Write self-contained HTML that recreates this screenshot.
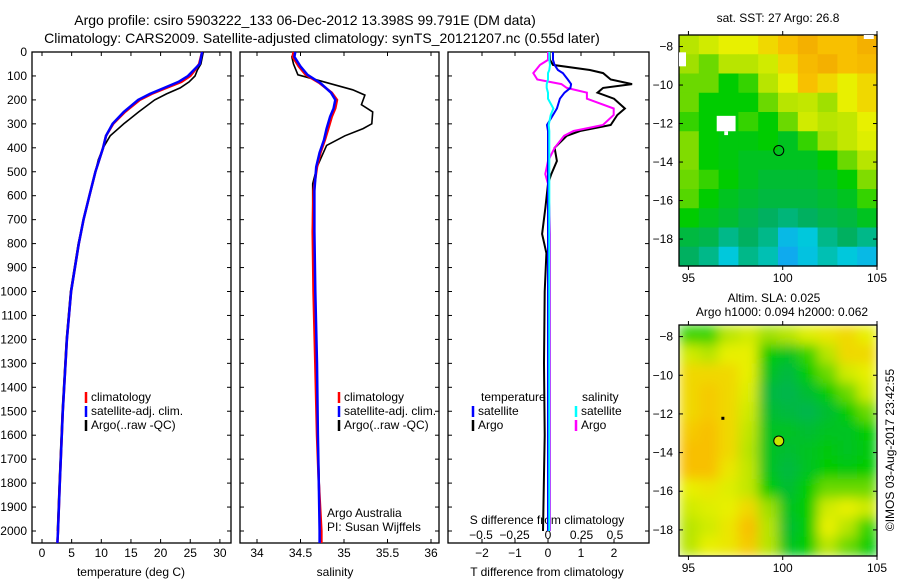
<!DOCTYPE html>
<html><head><meta charset="utf-8"><style>
body{margin:0;background:#fff}
svg{display:block;font-family:"Liberation Sans",sans-serif}
</style></head><body>
<svg id="fig" width="900" height="580" viewBox="0 0 900 580" xmlns="http://www.w3.org/2000/svg">
<defs>
<filter id="blur" x="-5%" y="-5%" width="110%" height="110%"><feGaussianBlur stdDeviation="6" edgeMode="duplicate"/></filter>
<clipPath id="slaClip"><rect x="679" y="325" width="198" height="231"/></clipPath>
</defs>
<g font-size="14" fill="#000" text-anchor="middle">
<text x="305" y="25">Argo profile: csiro 5903222_133 06-Dec-2012 13.398S 99.791E (DM data)</text>
<text x="322" y="43">Climatology: CARS2009. Satellite-adjusted climatology: synTS_20121207.nc (0.55d later)</text>
</g>
<g font-size="12" text-anchor="middle">
<text x="778" y="22">sat. SST: 27 Argo: 26.8</text>
<text x="774" y="302">Altim. SLA: 0.025</text>
<text x="782" y="316">Argo h1000: 0.094 h2000: 0.062</text>
<text x="131" y="576">temperature (deg C)</text>
<text x="335" y="576">salinity</text>
<text x="547" y="576">T difference from climatology</text>
<text x="547" y="524">S difference from climatology</text>
<text transform="translate(894,450) rotate(-90)">©IMOS 03-Aug-2017 23:42:55</text>
</g>
<g font-size="12">
<text x="327" y="517">Argo Australia</text>
<text x="327" y="531">PI: Susan Wijffels</text>
</g>
<g id="plots"></g>
</svg>
<script>
// ---- data ----
const tDepth = [0,50,75,100,125,150,175,200,250,300,350,400,500,600,700,800,1000,1200,1500,1800,2000,2050];
const tClim  = [27,26.5,25.8,25,23.5,21,18.5,16.5,14,12,10.8,10.3,9,8,7,6.2,4.9,4.2,3.5,3.0,2.7,2.6];
const tSat   = [27,26.6,25.6,24.6,23.0,20.6,18.2,16.2,13.8,11.9,10.8,10.3,9,8,7,6.2,4.9,4.2,3.5,3.0,2.7,2.6];
const tArgoDepth = [0,50,75,100,125,150,175,200,250,300,350,400,450,500,600,700,800,1000,1200,1500,1800,2000];
const tArgo  = [27.2,26.8,26.2,25.8,24.8,23.3,21,19,16.3,13.8,11.5,10.3,9.5,9,8,7,6.1,4.8,4.1,3.4,2.9,2.6];
const sDepth = [0,20,60,95,130,170,200,235,270,320,367,420,480,580,750,1000,1300,1600,1800,2000,2050];
const sClim  = [34.42,34.41,34.48,34.56,34.72,34.86,34.92,34.9,34.86,34.82,34.78,34.73,34.69,34.65,34.64,34.65,34.67,34.69,34.71,34.74,34.74];
const sSat   = [34.44,34.43,34.5,34.58,34.73,34.85,34.9,34.88,34.84,34.8,34.77,34.72,34.68,34.66,34.66,34.67,34.69,34.7,34.71,34.72,34.72];
const sArgoDepth = [0,20,50,95,120,158,180,220,250,300,320,350,390,480,550,700,1000,1300,1600,2000];
const sArgo  = [34.43,34.4,34.42,34.47,34.72,35.1,35.24,35.2,35.33,35.32,35.22,35.01,34.8,34.69,34.64,34.64,34.66,34.68,34.7,34.73];
const dDepth = [0,33,54,75,88,115,134,150,170,195,236,263,305,330,350,400,455,510,550,650,760,840,1000,1300,1600,2000];
const dTArgo = [0.05,0.06,0.15,1.27,1.67,1.9,2.55,1.67,1.5,2.0,2.33,2.1,1.9,0.97,0.57,0.2,0.27,0.1,0,-0.08,-0.18,-0.05,-0.1,-0.12,-0.1,-0.15];
const dTSat  = [0.15,0.15,0.2,0.3,0.45,0.6,0.7,0.68,0.5,0.36,0.27,0.15,-0.03,0,0,0,0,0,0,0,0,0,0,0,0,0];
const dSArgo = [0,0,-0.06,-0.09,-0.11,-0.08,0.1,0.14,0.29,0.29,0.49,0.49,0.41,0.19,0.12,0.05,0.0,-0.02,0,0.01,0.015,0.015,0.015,0.015,0.015,0.015];
const dSSat  = [0.01,0.01,0.015,0.01,0.0,0.0,-0.01,-0.01,0.0,0.0,0.04,0.02,0.005,0.01,0.01,0.01,0.01,0.01,0.01,0.01,0.01,0.01,0.01,0.01,0.01,0.01];
const depthTicks = [0,100,200,300,400,500,600,700,800,900,1000,1100,1200,1300,1400,1500,1600,1700,1800,1900,2000];
const tTicks = [0,5,10,15,20,25,30];
const sTicks = [34,34.5,35,35.5,36];
const sTickLabels = ["34","34.5","35","35.5","36"];
const dtTicks = [-2,-1,0,1,2];
const dsTicks = [-0.5,-0.25,0,0.25,0.5];
const dsTickLabels = ["\u22120.5","\u22120.25","0","0.25","0.5"];
const latTicks = [-8,-10,-12,-14,-16,-18];
const lonTicks = [95,100,105];
const sstGrid = [
[0.7,0.75,0.8,0.8,0.85,0.9,0.95,0.9,0.9,0.95],
[0.65,0.6,0.7,0.7,0.75,0.85,0.92,0.95,0.9,0.92],
[0.6,0.6,0.5,0.55,0.7,0.8,0.9,0.85,0.8,0.85],
[0.6,0.5,0.5,0.5,0.6,0.7,0.72,0.65,0.8,0.85],
[0.55,0.5,0.5,0.55,0.5,0.6,0.75,0.7,0.72,0.8],
[0.62,0.5,0.48,0.48,0.5,0.45,0.55,0.65,0.72,0.78],
[0.62,0.5,0.48,0.45,0.45,0.45,0.45,0.5,0.6,0.7],
[0.6,0.55,0.5,0.45,0.42,0.42,0.42,0.45,0.5,0.62],
[0.58,0.5,0.45,0.42,0.4,0.4,0.4,0.42,0.45,0.55],
[0.5,0.45,0.42,0.38,0.35,0.32,0.35,0.38,0.4,0.45],
[0.4,0.38,0.3,0.35,0.3,0.15,0.2,0.3,0.35,0.3],
[0.35,0.3,0.2,0.3,0.25,0.1,0.18,0.25,0.2,0.15]];
const slaGrid = [
[0.55,0.55,0.7,0.75,0.65,0.7,0.78,0.82,0.85,0.8],
[0.75,0.7,0.8,0.8,0.5,0.45,0.55,0.7,0.85,0.85],
[0.85,0.85,0.85,0.8,0.45,0.4,0.5,0.6,0.75,0.8],
[0.85,0.88,0.85,0.78,0.4,0.38,0.42,0.5,0.6,0.75],
[0.85,0.88,0.85,0.75,0.42,0.4,0.38,0.42,0.5,0.6],
[0.88,0.9,0.85,0.72,0.45,0.45,0.42,0.45,0.45,0.5],
[0.9,0.9,0.85,0.7,0.45,0.42,0.45,0.48,0.45,0.48],
[0.9,0.9,0.82,0.72,0.45,0.4,0.45,0.5,0.48,0.5],
[0.8,0.82,0.78,0.72,0.5,0.42,0.5,0.6,0.6,0.6],
[0.75,0.78,0.8,0.85,0.65,0.45,0.5,0.75,0.8,0.75],
[0.7,0.75,0.82,0.9,0.7,0.42,0.5,0.8,0.7,0.55],
[0.7,0.8,0.82,0.88,0.7,0.45,0.5,0.7,0.6,0.5]];
const floatLon = 99.791, floatLat = -13.398;

// ---- helpers ----
const NS="http://www.w3.org/2000/svg";
const root=document.getElementById('plots');
function el(tag,attrs,parent){const e=document.createElementNS(NS,tag);for(const k in attrs)e.setAttribute(k,attrs[k]);(parent||root).appendChild(e);return e;}
const TOP=52, DSCALE=0.2395, BOT=543;
const yD=d=>TOP+d*DSCALE;
const xT=t=>42+t*5.93;
const xS=s=>257+(s-34)*87;
const xDT=v=>548+v*33;
const xDS=v=>548+v*134;

function box(x0,x1,name){
  const r=el('rect',{x:x0,y:TOP,width:x1-x0,height:BOT-TOP,fill:'none',stroke:'#000','stroke-width':1.3});
  
  
  depthTicks.forEach(d=>{
    el('line',{x1:x0,x2:x0+4,y1:yD(d),y2:yD(d),stroke:'#000'});
    el('line',{x1:x1,x2:x1-4,y1:yD(d),y2:yD(d),stroke:'#000'});
  });
}
function xticks(vals,labels,fx,name,y){
  vals.forEach((v,i)=>{
    el('line',{x1:fx(v),x2:fx(v),y1:TOP,y2:TOP+4,stroke:'#000'});
    el('line',{x1:fx(v),x2:fx(v),y1:BOT,y2:BOT-4,stroke:'#000'});
    const t=el('text',{x:fx(v),y:y,'font-size':12,'text-anchor':'middle'});
    t.textContent=labels[i];
    
    
  });
}
function line(xs,ds,fx,color,w,name){
  const pts=xs.map((v,i)=>fx(v).toFixed(1)+','+yD(ds[i]).toFixed(1)).join(' ');
  const p=el('polyline',{points:pts,fill:'none',stroke:color,'stroke-width':w,'stroke-linejoin':'miter'});
  
  
}
function legend(x,y,color,label,name){
  el('line',{x1:x,x2:x,y1:y-9,y2:y+2,stroke:color,'stroke-width':2.5});
  const t=el('text',{x:x+5,y:y,'font-size':12});
  t.textContent=label;
  
  
}

// panel 1 temperature
box(32,231,'temperature-panel');
depthTicks.forEach(d=>{
  const t=el('text',{x:27,y:yD(d)+4,'font-size':12,'text-anchor':'end'});
  t.textContent=d;
  
  
});
xticks(tTicks,tTicks.map(String),xT,'temperature',557);
line(tArgo,tArgoDepth,xT,'#000',1.6,'temperature-argo-line');
line(tClim,tDepth,xT,'#f00',2.5,'temperature-climatology-line');
line(tSat,tDepth,xT,'#00f',2.5,'temperature-satellite-line');
legend(86,401,'#f00','climatology','legend-climatology-temp');
legend(86,415,'#00f','satellite-adj. clim.','legend-satellite-temp');
legend(86,429,'#000','Argo(..raw -QC)','legend-argo-temp');

// panel 2 salinity
box(240,439,'salinity-panel');
xticks(sTicks,sTickLabels,xS,'salinity',557);
line(sArgo,sArgoDepth,xS,'#000',1.6,'salinity-argo-line');
line(sClim,sDepth,xS,'#f00',2.5,'salinity-climatology-line');
line(sSat,sDepth,xS,'#00f',2.5,'salinity-satellite-line');
legend(339,401,'#f00','climatology','legend-climatology-sal');
legend(339,415,'#00f','satellite-adj. clim.','legend-satellite-sal');
legend(339,429,'#000','Argo(..raw -QC)','legend-argo-sal');

// panel 3 differences
box(448,649,'difference-panel');
xticks(dtTicks,dtTicks.map(v=>v<0?'\u2212'+(-v):String(v)),xDT,'t-diff',557);
dsTicks.forEach((v,i)=>{
  const t=el('text',{x:xDS(v),y:539,'font-size':12,'text-anchor':'middle'});
  t.textContent=dsTickLabels[i];
  
  
});
line(dTArgo,dDepth,xDT,'#000',2,'t-diff-argo-line');
line(dSArgo,dDepth,xDS,'#f0f',2,'s-diff-argo-line');
line(dTSat,dDepth,xDT,'#00f',2,'t-diff-satellite-line');
line(dSSat,dDepth,xDS,'#0ff',2,'s-diff-satellite-line');
(function(){const t=el('text',{x:481,y:401,'font-size':12});t.textContent='temperature';


const s=el('text',{x:582,y:401,'font-size':12});s.textContent='salinity';

})();
legend(473,415,'#00f','satellite','legend-t-satellite');
legend(473,429,'#000','Argo','legend-t-argo');
legend(576,415,'#0ff','satellite','legend-s-satellite');
legend(576,429,'#f0f','Argo','legend-s-argo');

// maps
const stops=[[0,[30,140,255]],[0.2,[0,200,220]],[0.35,[0,176,96]],[0.5,[0,204,0]],[0.65,[160,224,0]],[0.8,[232,240,0]],[0.9,[248,192,0]],[1,[240,160,0]]];
function cmap(v){for(let i=1;i<stops.length;i++){if(v<=stops[i][0]){const a=stops[i-1],b=stops[i],f=(v-a[0])/(b[0]-a[0]);return 'rgb('+a[1].map((c,k)=>Math.round(c+(b[1][k]-c)*f)).join(',')+')';}}return 'rgb(240,160,0)';}
function map(grid,top,bot,latTop,latBot,name,smooth){
  const L=679,R=877,lon0=94.5,lon1=105;
  const xL=lo=>L+(lo-lon0)/(lon1-lon0)*(R-L);
  const yL=la=>top+(latTop-la)/(latTop-latBot)*(bot-top);
  const rows=grid.length,cols=grid[0].length,cw=(R-L)/cols,ch=(bot-top)/rows;
  const outer=el('g',smooth?{'clip-path':'url(#slaClip)'}:{});
  const g=el('g',smooth?{filter:'url(#blur)'}:{},outer);
  
  
  grid.forEach((row,r)=>row.forEach((v,c)=>{
    const cell=el('rect',{x:L+c*cw,y:top+r*ch,width:cw+0.6,height:ch+0.6,fill:cmap(v)},g);
    
    
  }));
  el('rect',{x:L,y:top,width:R-L,height:bot-top,fill:'none',stroke:'#000','stroke-width':1.3});
  latTicks.forEach(la=>{
    el('line',{x1:L,x2:L+4,y1:yL(la),y2:yL(la),stroke:'#000'});
    el('line',{x1:R,x2:R-4,y1:yL(la),y2:yL(la),stroke:'#000'});
    const t=el('text',{x:673,y:yL(la)+4,'font-size':12,'text-anchor':'end'});
    t.textContent='\u2212'+(-la);
    
    
  });
  lonTicks.forEach(lo=>{
    el('line',{x1:xL(lo),x2:xL(lo),y1:top,y2:top-4,stroke:'#000'});
    el('line',{x1:xL(lo),x2:xL(lo),y1:bot,y2:bot+4,stroke:'#000'});
    const t=el('text',{x:xL(lo),y:bot+16,'font-size':12,'text-anchor':'middle'});
    t.textContent=lo;
    
    
  });
  return {xL,yL};
}
const m1=map(sstGrid,35,266,-7.4,-19.4,'sst-map',false);
el('rect',{x:m1.xL(96.5),y:m1.yL(-11.6),width:m1.xL(97.5)-m1.xL(96.5),height:m1.yL(-12.4)-m1.yL(-11.6),fill:'#fff'});
el('rect',{x:m1.xL(96.9),y:m1.yL(-12.4),width:m1.xL(97.1)-m1.xL(96.9),height:m1.yL(-12.6)-m1.yL(-12.4),fill:'#fff'});
el('rect',{x:m1.xL(94.5),y:m1.yL(-8.3),width:7,height:14,fill:'#fff'});
el('rect',{x:m1.xL(104.3),y:35,width:10,height:4,fill:'#fff'});
const c1=el('circle',{cx:m1.xL(floatLon),cy:m1.yL(floatLat),r:5,fill:'none',stroke:'#000'});


const m2=map(slaGrid,325,556,-7.4,-19.35,'sla-map',true);
el('rect',{x:m2.xL(96.8)-1,y:m2.yL(-12.2)-1,width:3,height:3,fill:'#000'});
const c2=el('circle',{cx:m2.xL(floatLon),cy:m2.yL(floatLat),r:5,fill:'#c8e800',stroke:'#000'});


</script>
</body></html>
